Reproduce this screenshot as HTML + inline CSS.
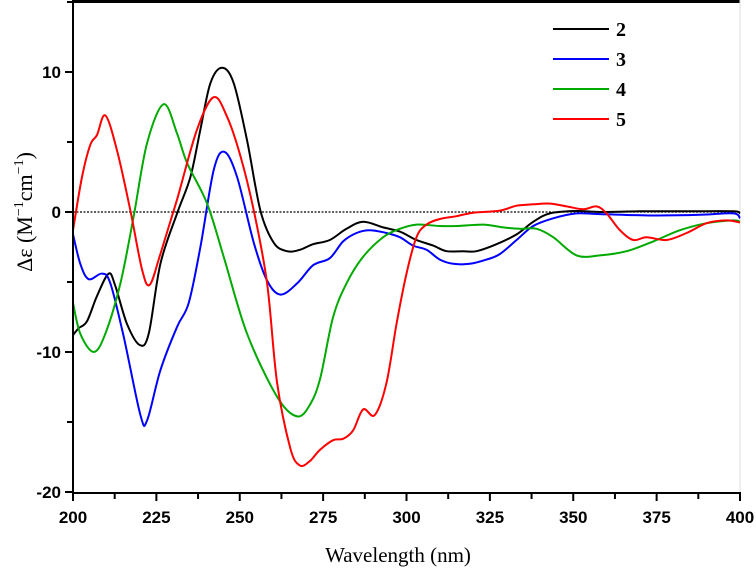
<!DOCTYPE html>
<html><head><meta charset="utf-8"><style>
html,body{margin:0;padding:0;background:#fff;}
svg{display:block;}
</style></head><body>
<svg id="chart" width="756" height="573" xmlns="http://www.w3.org/2000/svg"></svg>
<script>
const xTicks = [200,225,250,275,300,325,350,375,400];
const yTicks = [-20,-10,0,10];
const seriesNames = ["2","3","4","5"];
const seriesColors = ["#000000","#0000ff","#00aa00","#ff0000"];
const wl2 = [200,201.7,204.2,207.2,210.7,212.7,216.2,220,222.7,226.2,231.2,235.2,238.2,241.2,244.7,248.2,252.2,256.2,260.2,264.2,268,272,277,282,287,293,298,303,308,312,317,321,327,333,338,343,351,358,370,385,398,400];
const val2 = [-8.8,-8.3,-7.8,-6.0,-4.4,-5.3,-8.0,-9.5,-8.7,-3.7,-0.1,2.5,5.9,9.2,10.3,9.2,5.1,0.1,-2.2,-2.8,-2.7,-2.3,-2.0,-1.2,-0.7,-1.1,-1.4,-2.0,-2.4,-2.8,-2.8,-2.8,-2.3,-1.6,-0.7,-0.1,0.07,0,0.05,0.05,0.05,-0.1];
const wl3 = [200,202.2,204.7,208.7,211.2,215.2,220.2,222.2,226.2,231.2,234.7,238.2,242.2,245.4,249.2,254.2,258.2,262.2,267.2,272,277,281,285,289,294,298,302,306,310,314,319,324,328,333,338,344,351,358,374,388,398,400];
const val3 = [-1.6,-3.7,-4.8,-4.4,-5.1,-8.9,-14.5,-14.9,-11.3,-8.2,-6.5,-2.5,3.0,4.3,2.5,-2.2,-4.9,-5.9,-5.1,-3.8,-3.3,-2.1,-1.5,-1.3,-1.5,-1.8,-2.4,-2.7,-3.4,-3.7,-3.7,-3.4,-3.0,-2.0,-1.0,-0.45,-0.1,-0.15,-0.25,-0.2,-0.1,-0.45];
const wl4 = [200,202.2,206.2,209.7,214.2,218.2,222.2,227.2,231.2,234.2,240.2,245.2,252.2,261.2,267.2,271.2,274.2,278,282,287,293,298,303,310,315,323,329,334,339,344,351,358,366,374,382,390,398,400];
const val4 = [-6.5,-8.7,-10,-8.7,-5.1,-0.3,4.9,7.7,5.6,3.5,0.6,-3.2,-8.7,-13.2,-14.6,-13.7,-11.8,-7.5,-5.1,-3.2,-1.8,-1.2,-0.9,-1.0,-1.0,-0.9,-1.1,-1.2,-1.2,-1.8,-3.1,-3.1,-2.8,-2.1,-1.3,-0.8,-0.6,-0.7];
const wl5 = [200,202.7,205.2,207.2,209.7,213.2,217.2,220.7,223,226.2,231.2,237.2,242.2,246.2,250.2,254.2,258.2,261.2,265.2,268,271,274,278,281,284,287,290.5,294,297,300,303,306,310,315,320,328,333,338,343,348,353,357,360,364,368,372,378,384,390,396,400];
const val5 = [-1.3,2.5,4.8,5.5,6.9,4.4,0.1,-4.1,-5.2,-3.0,0.9,5.9,8.2,6.8,4.0,0.1,-5.1,-12.2,-16.9,-18.1,-17.8,-17.0,-16.3,-16.2,-15.6,-14.1,-14.5,-12.2,-8.0,-4.4,-1.8,-0.9,-0.5,-0.3,-0.05,0.1,0.45,0.55,0.6,0.4,0.2,0.4,-0.1,-1.3,-2.0,-1.8,-2.0,-1.5,-0.8,-0.6,-0.75];
const seriesX = [wl2,wl3,wl4,wl5];
const seriesY = [val2,val3,val4,val5];

const NS="http://www.w3.org/2000/svg";
const svg=document.getElementById('chart');
const X0=73,X1=740,Y0=493;
const xS=v=>X0+(v-200)/200*(X1-X0);
const yS=v=>212-v*14;
function mk(t,a,p){const e=document.createElementNS(NS,t);for(const k in a)e.setAttribute(k,a[k]);(p||svg).appendChild(e);return e;}

let fr=mk('line',{x1:X0,y1:1.5,x2:X1,y2:1.5,stroke:'#000','stroke-width':3});


let rb=mk('line',{x1:X1,y1:0,x2:X1,y2:Y0,stroke:'#ddd','stroke-width':1});


let zl=mk('line',{x1:X0,y1:yS(0),x2:X1,y2:yS(0),stroke:'#000','stroke-width':1.2,'stroke-dasharray':'2,1.5'});



function smoothPath(pts){
  let d='M'+pts[0][0].toFixed(1)+','+pts[0][1].toFixed(1);
  for(let i=0;i<pts.length-1;i++){
    const p0=pts[Math.max(0,i-1)],p1=pts[i],p2=pts[i+1],p3=pts[Math.min(pts.length-1,i+2)];
    const c1x=p1[0]+(p2[0]-p0[0])/6,c1y=p1[1]+(p2[1]-p0[1])/6;
    const c2x=p2[0]-(p3[0]-p1[0])/6,c2y=p2[1]-(p3[1]-p1[1])/6;
    d+='C'+c1x.toFixed(1)+','+c1y.toFixed(1)+' '+c2x.toFixed(1)+','+c2y.toFixed(1)+' '+p2[0].toFixed(1)+','+p2[1].toFixed(1);
  }
  return d;
}
for(let s=0;s<4;s++){
  const pts=seriesX[s].map((x,i)=>[xS(x),yS(seriesY[s][i])]);
  const p=mk('path',{d:smoothPath(pts),fill:'none',stroke:seriesColors[s],'stroke-width':2,'stroke-linejoin':'round'});
  
  
}

let xa=mk('line',{x1:X0,y1:Y0,x2:X1+1,y2:Y0,stroke:'#000','stroke-width':2});


let ya=mk('line',{x1:X0,y1:0,x2:X0,y2:Y0+1,stroke:'#000','stroke-width':2});



for(let v=200;v<=400;v+=12.5){
  const major=(v%25===0);
  mk('line',{x1:xS(v),y1:Y0,x2:xS(v),y2:Y0+(major?8:6),stroke:'#000','stroke-width':2});
}
xTicks.forEach(v=>{
  const t=mk('text',{x:xS(v),y:Y0+30,'text-anchor':'middle','font-family':'Liberation Sans, sans-serif','font-weight':'bold','font-size':17});
  t.textContent=v;
  
  
});
for(let v=-20;v<=15;v+=5){
  const major=(v%10===0);
  mk('line',{x1:X0,y1:yS(v),x2:X0-(major?8:6),y2:yS(v),stroke:'#000','stroke-width':2});
}
yTicks.forEach(v=>{
  const t=mk('text',{x:X0-12,y:yS(v)+6,'text-anchor':'end','font-family':'Liberation Sans, sans-serif','font-weight':'bold','font-size':17});
  t.textContent=v;
  
  
});

let xt=mk('text',{x:398,y:562,'text-anchor':'middle','font-family':'Liberation Serif, serif','font-size':21});
xt.textContent='Wavelength (nm)';


let yt=mk('text',{x:0,y:0,'text-anchor':'middle','font-family':'Liberation Serif, serif','font-size':22,transform:'translate(32,212) rotate(-90)'});
yt.innerHTML='Δε (M<tspan dy="-9" font-size="14">−1</tspan><tspan dy="9">cm</tspan><tspan dy="-9" font-size="14">−1</tspan><tspan dy="9">)</tspan>';



for(let s=0;s<4;s++){
  const g=mk('g',{});
  
  
  const y=29+s*30;
  mk('line',{x1:553,y1:y,x2:609,y2:y,stroke:seriesColors[s],'stroke-width':2},g);
  const t=mk('text',{x:616,y:y+7,'font-family':'Liberation Serif, serif','font-weight':'bold','font-size':20},g);
  t.textContent=seriesNames[s];
}
</script>
</body></html>
